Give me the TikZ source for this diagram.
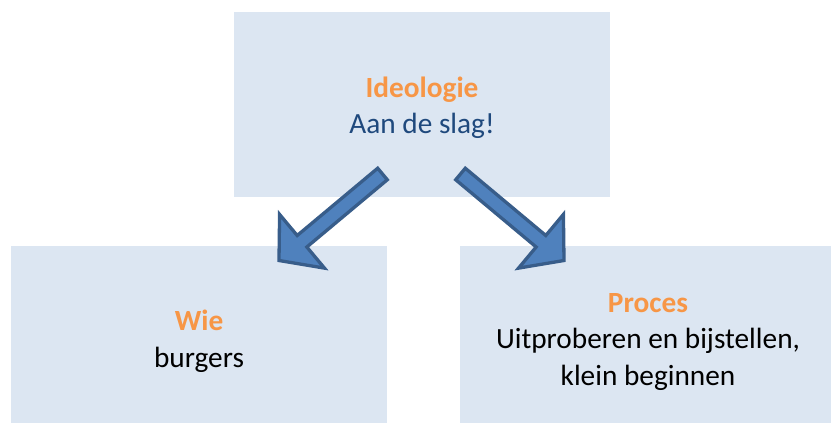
\documentclass[tikz,border=0pt]{standalone}
\usepackage{fontspec}
\setmainfont{Carlito}
\usetikzlibrary{calc}
\definecolor{boxfill}{HTML}{DCE6F2}
\definecolor{orangetxt}{HTML}{F79646}
\definecolor{navytxt}{HTML}{1F497D}
\definecolor{arrowfill}{HTML}{4F81BD}
\definecolor{arrowline}{HTML}{385D8A}
\newcommand\blockarrow[2]{%
  \coordinate (#1base) at ($(#2)!30pt!(#1)$);
  \draw[barrow]
    ($(#1)!7.5pt!90:(#2)$) --
    ($(#1base)!7.5pt!-90:(#1)$) --
    ($(#1base)!35pt!-90:(#1)$) --
    (#2) --
    ($(#1base)!35pt!90:(#1)$) --
    ($(#1base)!7.5pt!90:(#1)$) --
    ($(#1)!7.5pt!-90:(#2)$) -- cycle;
}
\begin{document}
\begin{tikzpicture}[x=1pt,y=-1pt,
  box/.style={rectangle, fill=boxfill, draw=none, inner sep=0pt, anchor=north west,
              minimum width=376pt},
  titletxt/.style={anchor=base, inner sep=0pt, text=orangetxt, font=\fontsize{29.3pt}{35pt}\selectfont\bfseries},
  bodytxt/.style={anchor=base, inner sep=0pt, text=black, font=\fontsize{29.3pt}{35pt}\selectfont},
  barrow/.style={fill=arrowfill, draw=arrowline, line width=3.3pt, line join=miter}]
\useasboundingbox (0,0) rectangle (831,423);
\clip (0,0) rectangle (831,423);
% boxes
\node[box, minimum height=185pt] (ideo) at (234,12) {};
\node[box, minimum height=190pt] (wie) at (11,246) {};
\node[box, minimum height=190pt] (proces) at (460,246) {};
% texts
\node[titletxt] (ideoT) at (422,97) {Ideologie};
\node[bodytxt, text=navytxt] (ideoB) at (422,133) {Aan de slag!};
\node[titletxt] (wieT) at (199,330) {Wie};
\node[bodytxt] (wieB) at (199,367) {burgers};
\node[titletxt] (procT) at (648,312) {Proces};
\node[bodytxt] (procB1) at (648,348) {Uitproberen en bijstellen,};
\node[bodytxt] (procB2) at (648,385) {klein beginnen};
% arrows
\coordinate (aL) at (382.5,174);
\coordinate (aLtip) at (279,260.5);
\coordinate (aR) at (460.5,174);
\coordinate (aRtip) at (564,260.5);
\blockarrow{aL}{aLtip}
\blockarrow{aR}{aRtip}
\end{tikzpicture}
\end{document}
